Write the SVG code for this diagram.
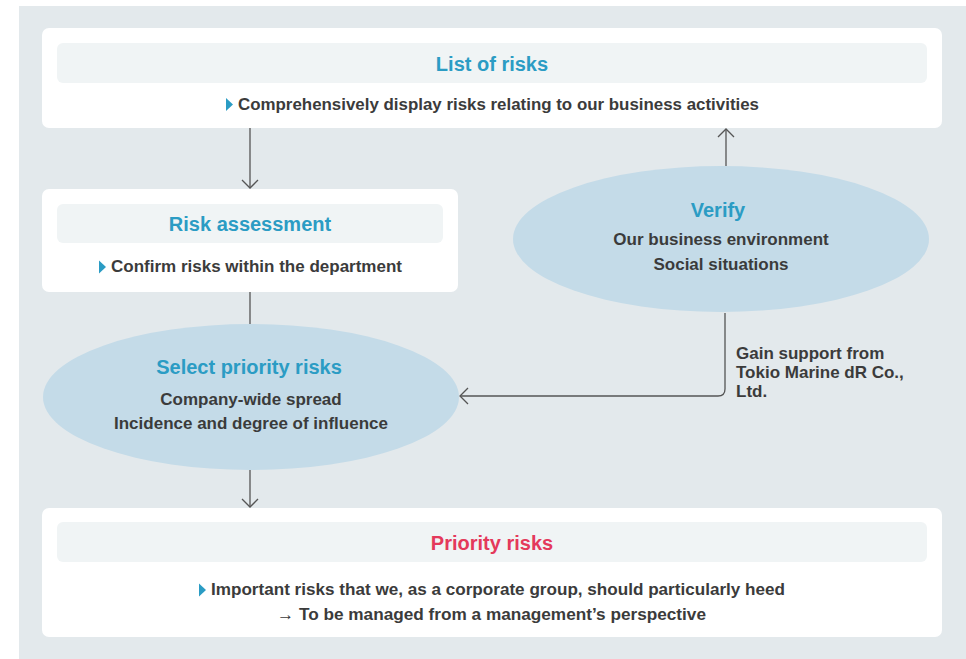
<svg xmlns="http://www.w3.org/2000/svg" width="966" height="659" viewBox="0 0 966 659">
<defs>
<style>
.panel{fill:#e3e9ec}
.box{fill:#ffffff}
.hdr{fill:#f0f4f5}
.ell{fill:#c4dbe8}
.title{font-family:"Liberation Sans",Arial,sans-serif;font-size:20px;font-weight:bold;fill:#2b9cc4;text-anchor:middle}
.red{fill:#e4395b}
.body{font-family:"Liberation Sans",Arial,sans-serif;font-size:17px;font-weight:bold;fill:#3b3b3b}
.mid{text-anchor:middle}
.tri{fill:#2b9cc4}
.conn{fill:none;stroke:#555;stroke-width:1.3}
</style>
<marker id="arr" markerUnits="userSpaceOnUse" markerWidth="20" markerHeight="20" viewBox="-10 -10 20 20" refX="0" refY="0" orient="auto">
<path d="M-8,-8 L0,0 L-8,8" fill="none" stroke="#555" stroke-width="1.3"/>
</marker>
</defs>
<rect class="panel" x="19" y="6" width="947" height="653"/>

<g id="connectors">
<line class="conn" x1="250" y1="128" x2="250" y2="188" marker-end="url(#arr)"/>
<line class="conn" x1="250" y1="292" x2="250" y2="325"/>
<line class="conn" x1="250" y1="470" x2="250" y2="507" marker-end="url(#arr)"/>
<line class="conn" x1="726" y1="166" x2="726" y2="129" marker-end="url(#arr)"/>
<path class="conn" d="M725,313 V389 Q725,396 718,396 H460" marker-end="url(#arr)"/>
<text class="body"><tspan x="736" y="359">Gain support from</tspan><tspan x="736" y="378">Tokio Marine dR Co.,</tspan><tspan x="736" y="397">Ltd.</tspan></text>
</g>

<g id="list-of-risks">
<rect class="box" x="42" y="28" width="900" height="100" rx="7"/>
<rect class="hdr" x="57" y="43" width="870" height="40" rx="6"/>
<text class="title" x="492" y="71">List of risks</text>
<polygon class="tri" points="226,98 233,104.5 226,111"/>
<text class="body" x="238" y="110" textLength="521" lengthAdjust="spacingAndGlyphs">Comprehensively display risks relating to our business activities</text>
</g>

<g id="risk-assessment">
<rect class="box" x="42" y="189" width="416" height="103" rx="7"/>
<rect class="hdr" x="57" y="204" width="386" height="39" rx="6"/>
<text class="title" x="250" y="231">Risk assessment</text>
<polygon class="tri" points="99,260.5 106,267 99,273.5"/>
<text class="body" x="111" y="272" textLength="291" lengthAdjust="spacingAndGlyphs">Confirm risks within the department</text>
</g>

<g id="verify">
<ellipse class="ell" cx="721" cy="239" rx="208" ry="73"/>
<text class="title" x="718" y="217">Verify</text>
<text class="body mid" x="721" y="245">Our business environment</text>
<text class="body mid" x="721" y="270">Social situations</text>
</g>

<g id="select-priority-risks">
<ellipse class="ell" cx="251" cy="397" rx="208" ry="73"/>
<text class="title" x="249" y="374">Select priority risks</text>
<text class="body mid" x="251" y="405">Company-wide spread</text>
<text class="body mid" x="251" y="429">Incidence and degree of influence</text>
</g>

<g id="priority-risks">
<rect class="box" x="42" y="508" width="900" height="129" rx="7"/>
<rect class="hdr" x="57" y="522" width="870" height="40" rx="6"/>
<text class="title red" x="492" y="550">Priority risks</text>
<polygon class="tri" points="199,583.5 206,590 199,596.5"/>
<text class="body" x="211" y="595" textLength="574" lengthAdjust="spacingAndGlyphs">Important risks that we, as a corporate group, should particularly heed</text>
<text class="body" x="277" y="620" textLength="429" lengthAdjust="spacingAndGlyphs">→ To be managed from a management’s perspective</text>
</g>
</svg>
